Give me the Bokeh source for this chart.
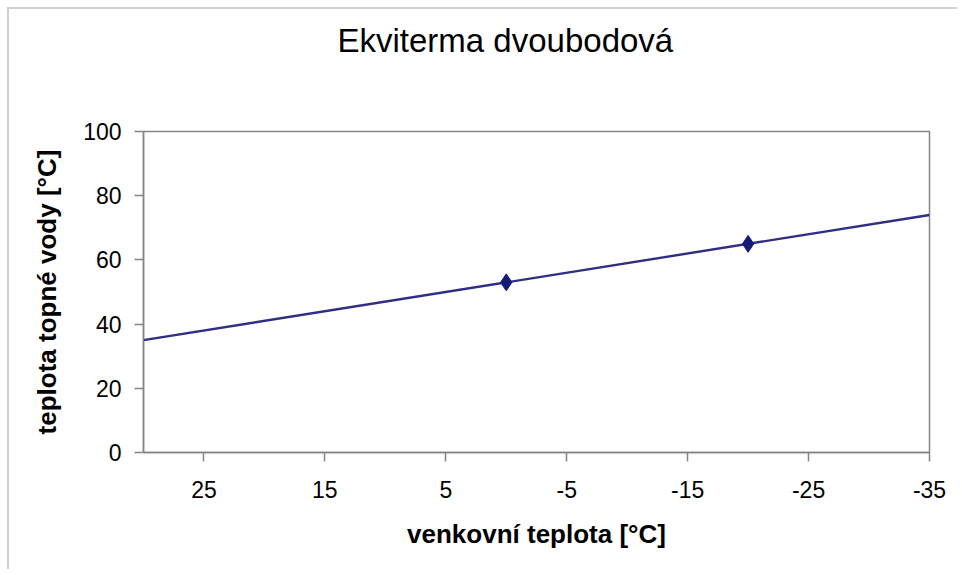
from bokeh.plotting import figure
from bokeh.models import Range1d, FixedTicker, Title
from bokeh.embed import file_html
from bokeh.resources import INLINE

# data
line_x = [30, -35]
line_y = [35, 74]
point_x = [0, -20]
point_y = [53, 65]
x_ticks = [25, 15, 5, -5, -15, -25, -35]
y_ticks = [0, 20, 40, 60, 80, 100]
title_text = "Ekviterma dvoubodová"

FONT = "Liberation Sans"
GRAY = "#858585"

p = figure(width=950, height=562, output_backend="svg", toolbar_location=None,
           x_range=Range1d(30, -35), y_range=Range1d(0, 100),
           min_border_left=134, min_border_right=30,
           min_border_top=122, min_border_bottom=119)
p.styles = {"border-left": "2px solid #cfcfcf", "border-top": "2px solid #cfcfcf",
            "margin-left": "7px", "margin-top": "7px"}

# blank spacer next to the frame, then the real title above it
spacer = Title(text=" ", text_font=FONT, text_font_size="33px", standoff=34)
main_title = Title(text=title_text, text_font=FONT, text_font_size="33px",
                   text_font_style="normal", text_color="#000000",
                   align="left", offset=194, standoff=0)
p.add_layout(spacer, "above")
p.add_layout(main_title, "above")

p.xgrid.visible = False
p.ygrid.visible = False
p.outline_line_color = GRAY
p.outline_line_width = 1.5

p.xaxis.ticker = FixedTicker(ticks=x_ticks)
p.yaxis.ticker = FixedTicker(ticks=y_ticks)
p.xaxis.major_label_overrides = {t: str(t) for t in x_ticks}
for ax in (p.xaxis[0], p.yaxis[0]):
    ax.axis_line_color = GRAY
    ax.axis_line_width = 1.5
    ax.major_tick_line_color = GRAY
    ax.major_tick_line_width = 1.5
    ax.major_tick_out = 9
    ax.major_tick_in = 0
    ax.minor_tick_line_color = None
    ax.major_label_text_font = FONT
    ax.major_label_text_font_size = "23px"
    ax.major_label_text_color = "#000000"
    ax.axis_label_text_font = FONT
    ax.axis_label_text_font_size = "26px"
    ax.axis_label_text_font_style = "bold"
    ax.axis_label_text_color = "#000000"

p.xaxis.axis_label = "venkovní teplota [°C]"
p.yaxis.axis_label = "teplota topné vody [°C]"
p.xaxis.major_label_standoff = 19
p.yaxis.major_label_standoff = 13
p.xaxis.axis_label_standoff = 18
p.yaxis.axis_label_standoff = 18

p.line(line_x, line_y, line_color="#2e2e85", line_width=2.4)
p.scatter(point_x, point_y, marker="diamond", size=17, fill_color="#141a78",
          line_color="#141a78")

open("out.html", "w").write(file_html(p, INLINE))
